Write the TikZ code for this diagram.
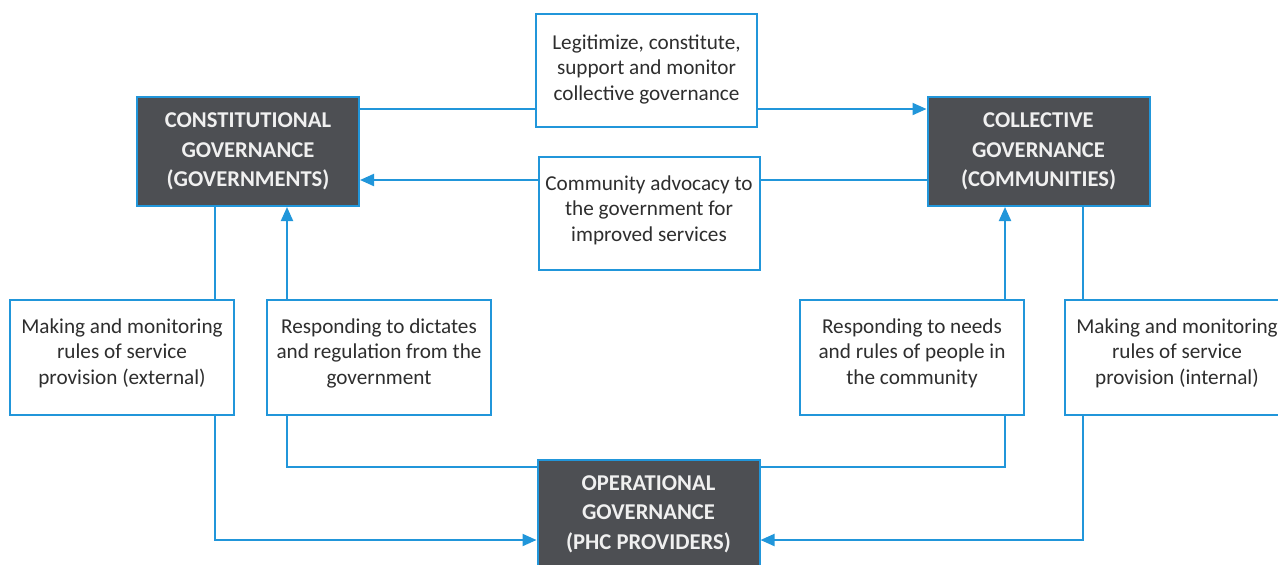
\documentclass[tikz,border=0pt]{standalone}
\usepackage{fontspec}
\setmainfont{Carlito}
\usetikzlibrary{arrows.meta,backgrounds}
\definecolor{linkblue}{RGB}{33,150,218}
\definecolor{darkbox}{RGB}{77,79,83}
\newcommand{\lowpad}[1]{\rule[-#1]{0pt}{#1}}
\begin{document}
\begin{tikzpicture}[x=0.5pt,y=-0.5pt,
	govbox/.style={draw=linkblue,line width=1pt,fill=darkbox,text=white!94!black,
		font=\fontsize{11.3}{14.75}\selectfont\bfseries,align=center,
		minimum width=111pt,minimum height=54.5pt,inner sep=0pt},
	rolebox/.style={draw=linkblue,line width=1pt,fill=white,text=black!82,
		font=\fontsize{10.6}{12.9}\selectfont,align=center,
		minimum width=112pt,minimum height=57.5pt,inner sep=0pt},
	link/.style={draw=linkblue,line width=1pt},
	tolink/.style={link,-{Triangle[width=6pt,length=7pt]}}]
	\useasboundingbox (0,0) rectangle (1278,564);
	%governance levels
	\node[govbox] (const) at (248,151.5) {CONSTITUTIONAL\\GOVERNANCE\\(GOVERNMENTS)};
	\node[govbox] (coll) at (1038.5,151.5) {COLLECTIVE\\GOVERNANCE\\(COMMUNITIES)};
	\node[govbox] (oper) at (648.5,514) {OPERATIONAL\\GOVERNANCE\\(PHC PROVIDERS)};
	%relations
	\node[rolebox,minimum width=110.5pt,minimum height=56.5pt] (legit) at (646.5,70.5)
		{Legitimize, constitute,\\support and monitor\\collective governance\lowpad{3pt}};
	\node[rolebox,minimum width=110.5pt,minimum height=56.5pt] (advoc) at (649,213.5)
		{Community advocacy to\\the government for\\improved services\lowpad{5pt}};
	\node[rolebox] (extrule) at (122,357.5)
		{Making and monitoring\\rules of service\\provision (external)\lowpad{6pt}};
	\node[rolebox] (dictate) at (379,357.5)
		{Responding to dictates\\and regulation from the\\government\lowpad{6pt}};
	\node[rolebox] (needs) at (912,357.5)
		{Responding to needs\\and rules of people in\\the community\lowpad{6pt}};
	\node[rolebox] (intrule) at (1177,357.5)
		{Making and monitoring\\rules of service\\provision (internal)\lowpad{6pt}};
	%rows and columns of the connectors
	\coordinate (toprow) at (0,109);
	\coordinate (midrow) at (0,180);
	\coordinate (lowrow) at (0,467);
	\coordinate (botrow) at (0,540);
	\coordinate (extcol) at (215,0);
	\coordinate (dictcol) at (287,0);
	\coordinate (needcol) at (1005,0);
	\coordinate (intcol) at (1083,0);
	\begin{scope}[on background layer]
		\draw[tolink] (const.east |- toprow) -- (coll.west |- toprow);
		\draw[tolink] (coll.west |- midrow) -- (const.east |- midrow);
		\draw[tolink] (const.south -| extcol) |- (oper.west |- botrow);
		\draw[tolink] (oper.west |- lowrow) -| (const.south -| dictcol);
		\draw[tolink] (oper.east |- lowrow) -| (coll.south -| needcol);
		\draw[tolink] (coll.south -| intcol) |- (oper.east |- botrow);
	\end{scope}
\end{tikzpicture}
\end{document}
